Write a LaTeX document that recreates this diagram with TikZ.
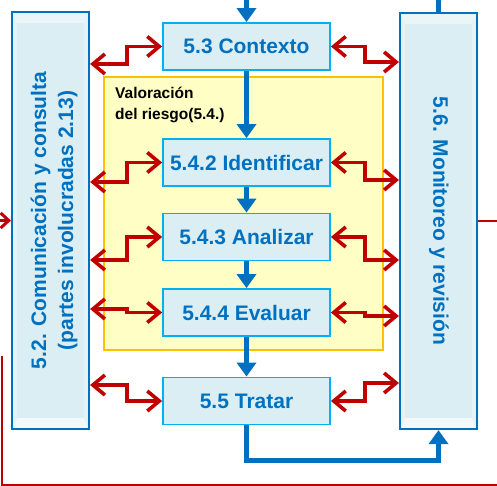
\documentclass[tikz,border=0pt]{standalone}
\usepackage{fontspec}
\setmainfont{Liberation Sans}
\usetikzlibrary{arrows.meta}

\definecolor{procblue}{HTML}{0070C0}
\definecolor{procfill}{HTML}{DAEEF3}
\definecolor{procline}{HTML}{00B0F0}
\definecolor{talkred}{HTML}{C00000}
\definecolor{riskfill}{HTML}{FFFFC5}
\definecolor{riskline}{HTML}{FFC000}

\begin{document}
\begin{tikzpicture}[x=1pt, y=-1pt,
    stagebox/.style={draw=procline, line width=1.8pt, fill=procfill, text=procblue,
      minimum width=167pt, minimum height=47pt, inner sep=0pt,
      font=\fontsize{21}{25}\selectfont\bfseries},
    sidebox/.style={draw=procblue, line width=2.2pt, fill=procfill,
      minimum width=77pt, minimum height=417pt, inner sep=0pt},
    sidetext/.style={text=procblue, align=center, inner sep=0pt,
      font=\fontsize{21}{27}\selectfont\bfseries},
    flow/.style={draw=procblue, line width=5.8pt, -{Triangle[length=14pt, width=19pt]}},
    talk/.style={draw=talkred, line width=3.6pt, line join=miter,
      {Straight Barb[length=12pt, width=20pt]}-{Straight Barb[length=12pt, width=20pt]}},
    loopline/.style={draw=talkred, line width=2.4pt}]
    \useasboundingbox (0,0) rectangle (497,486);

    % assessment area
    \node [draw=riskline, line width=1.5pt, fill=riskfill, minimum width=279pt,
      minimum height=273pt, inner sep=0pt] (risk) at (243.5,213.5) {};
    \node [anchor=north west, align=left, inner sep=0pt,
      font=\fontsize{15.5}{21}\selectfont\bfseries] (risktitle) at (115,87)
      {Valoración\\del riesgo(5.4.)};

    % side boxes
    \node [sidebox] (com) at (50.5,220.5) {};
    \node [sidebox, minimum height=416pt] (mon) at (438.5,221) {};
    \foreach \side in {com,mon} {
      \fill [white, opacity=.45] ([shift={(2.2,2.2)}]\side.north west) -- ([shift={(-2.2,2.2)}]\side.north east)
        -- ([shift={(-6,12)}]\side.north east) -- ([shift={(6,12)}]\side.north west) -- cycle;
      \fill [white, opacity=.65] ([shift={(2.2,-2.2)}]\side.south west) -- ([shift={(-2.2,-2.2)}]\side.south east)
        -- ([shift={(-6,-12)}]\side.south east) -- ([shift={(6,-12)}]\side.south west) -- cycle;
      \fill [white, opacity=.3] ([shift={(2.2,2.2)}]\side.north west) -- ([shift={(6,12)}]\side.north west)
        -- ([shift={(6,-12)}]\side.south west) -- ([shift={(2.2,-2.2)}]\side.south west) -- cycle;
      \fill [white, opacity=.3] ([shift={(-2.2,2.2)}]\side.north east) -- ([shift={(-6,12)}]\side.north east)
        -- ([shift={(-6,-12)}]\side.south east) -- ([shift={(-2.2,-2.2)}]\side.south east) -- cycle;
    }
    \node [sidetext, rotate=90] (comtext) at (54,220.5)
      {5.2. Comunicación y consulta\\(partes involucradas 2.13)};
    \node [sidetext, rotate=-90] (montext) at (439,221) {5.6. Monitoreo y revisión};

    % process steps
    \node [stagebox] (ctx) at (246.5,46.5) {5.3 Contexto};
    \node [stagebox] (ide) at (246.5,162.5) {5.4.2 Identificar};
    \node [stagebox] (ana) at (246.5,237) {5.4.3 Analizar};
    \node [stagebox] (eva) at (246.5,312.5) {5.4.4 Evaluar};
    \node [stagebox] (tra) at (246.5,401) {5.5 Tratar};

    % main flow
    \coordinate (entry) at (246.5,-4);
    \draw [flow] (entry) -- (ctx.north);
    \draw [flow] (ctx.south) -- (ide.north);
    \draw [flow] (ide.south) -- (ana.north);
    \draw [flow] (ana.south) -- (eva.north);
    \draw [flow] (eva.south) -- (tra.north);
    \draw [flow] (tra.south) -- ++(0,35) -| (mon.south);
    \draw [draw=procblue, line width=5.8pt] (mon.north) -- (mon.north |- entry);

    % communication and monitoring links
    \foreach \stage/\ly/\ry in {ctx/64/62, ide/182/180, ana/260/260, eva/309/316, tra/385/383} {
      \draw [talk] (com.east |- 0,\ly) -- ++(37,0) |- (\stage.west);
      \draw [talk] (\stage.east) -- ++(34,0) |- (mon.west |- 0,\ry);
    }

    % feedback loop
    \coordinate (loopin) at (-4,220.5);
    \coordinate (loopout) at (501,221);
    \coordinate (looptop) at (2,356);
    \coordinate (loopcorner) at (2,485);
    \coordinate (loopend) at (501,485);
    \draw [talkred, line width=3pt, -{Straight Barb[length=8pt, width=15pt]}] (loopin) -- (com.west);
    \draw [loopline] (mon.east) -- (loopout);
    \draw [loopline] (looptop) -- (loopcorner) -- (loopend);
\end{tikzpicture}
\end{document}
